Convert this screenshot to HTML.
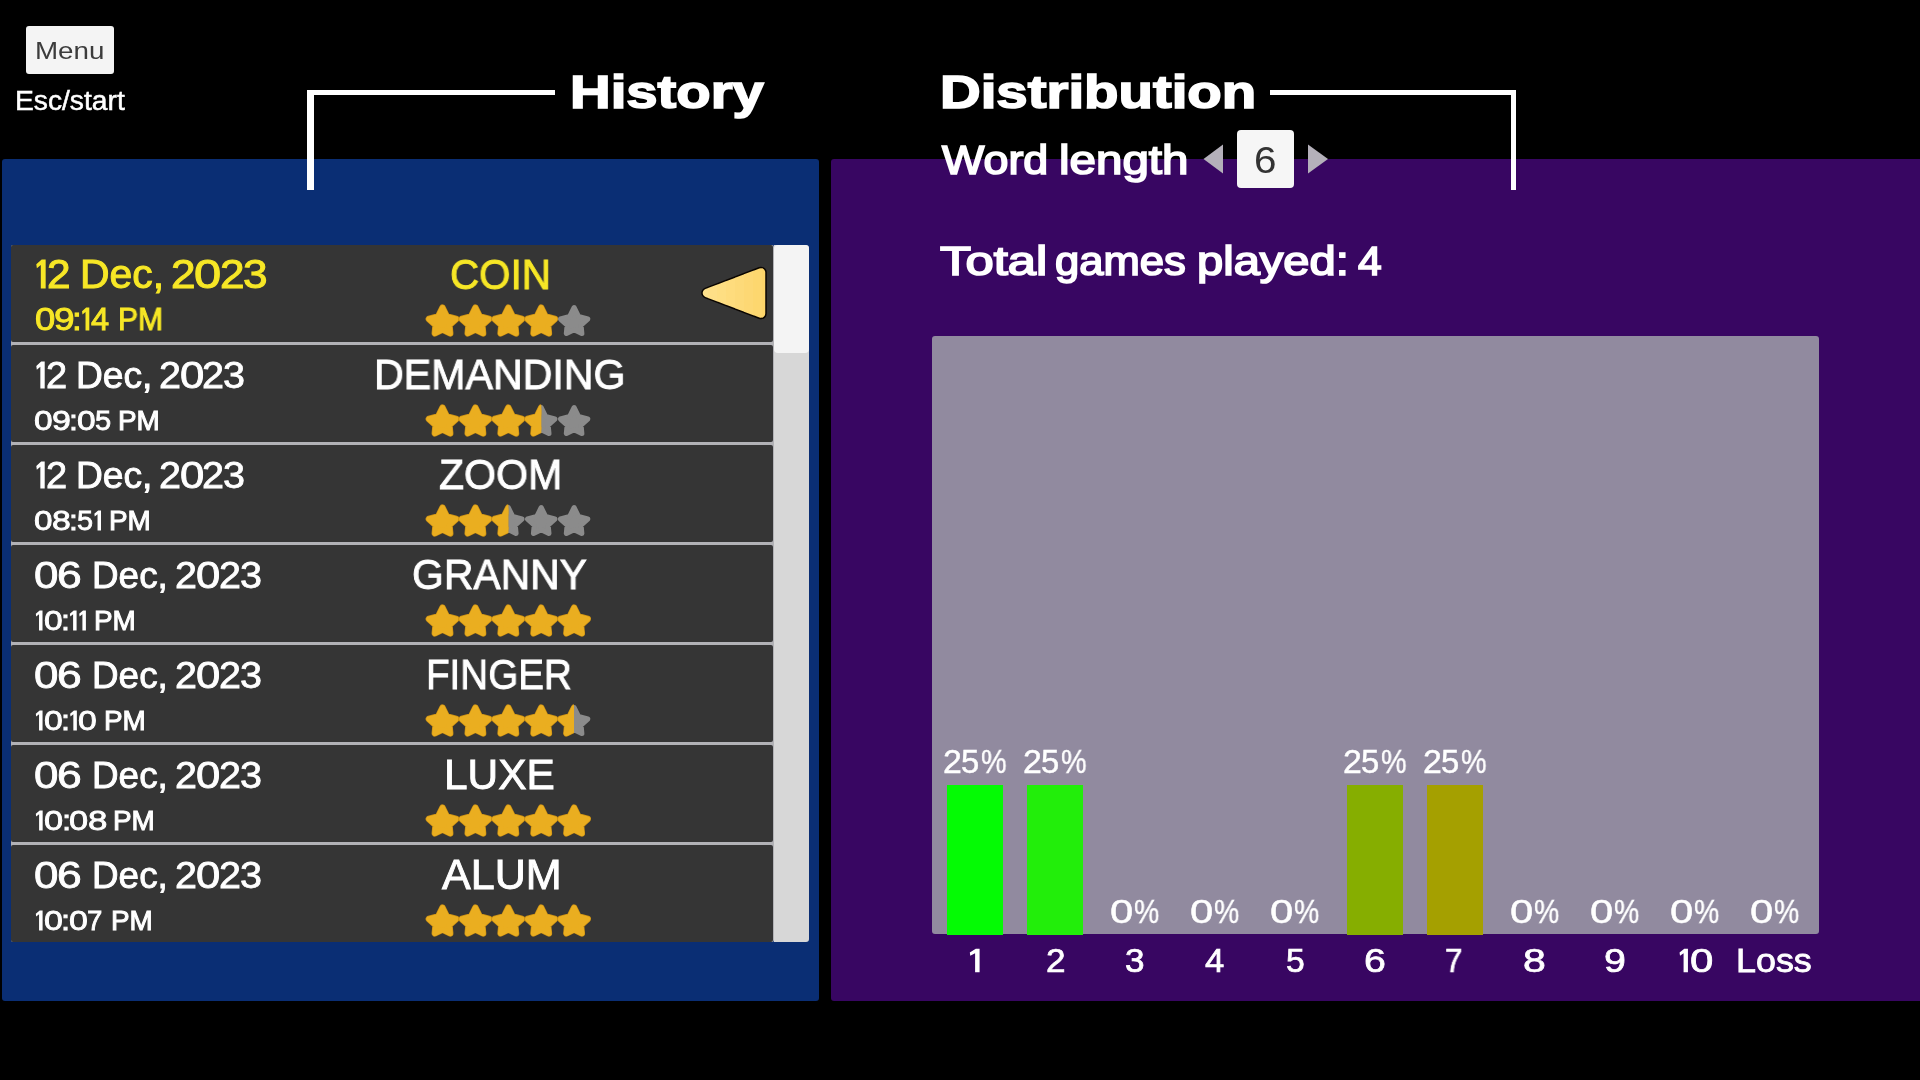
<!DOCTYPE html>
<html><head><meta charset="utf-8"><title>History &amp; Distribution</title>
<style>
html,body{margin:0;padding:0;background:#000;}
body{width:1920px;height:1080px;position:relative;overflow:hidden;font-family:"Liberation Sans",sans-serif;}
.b{position:absolute;display:block;}
.t{position:absolute;display:block;white-space:nowrap;line-height:1;transform-origin:0 0;will-change:transform;}
</style></head><body>
<div class="b" style="left:1.5px;top:158.8px;width:817.00px;height:842.00px;background:#0a2e74;border-radius:3px;"></div>
<div class="b" style="left:831px;top:158.8px;width:1089.00px;height:842.00px;background:#380662;border-radius:3px 0 0 3px;"></div>
<div class="b" style="left:26px;top:26px;width:87.80px;height:47.80px;background:#f4f4f4;border-radius:3px;"></div>
<span class="t" style="left:34.91px;top:39px;font-size:24.2px;color:#3c3c3c;transform:scaleX(1.1474);">Menu</span>
<span class="t" style="left:15.27px;top:88px;font-size:26.8px;color:#ffffff;transform:scaleX(1.0527);-webkit-text-stroke:0.5px #ffffff;">Esc/start</span>
<div class="b" style="left:307.4px;top:90.4px;width:247.80px;height:4.60px;background:#fff;"></div>
<div class="b" style="left:307.4px;top:90.4px;width:6.70px;height:99.60px;background:#fff;"></div>
<div class="b" style="left:1269.6px;top:90.4px;width:246.80px;height:4.60px;background:#fff;"></div>
<div class="b" style="left:1510.9px;top:90.4px;width:5.50px;height:99.60px;background:#fff;"></div>
<span class="t" style="left:569.80px;top:69px;font-size:46px;color:#fff;transform:scaleX(1.2235);font-weight:700;-webkit-text-stroke:1.6px #fff;">History</span>
<span class="t" style="left:939.60px;top:69px;font-size:46px;color:#fff;transform:scaleX(1.2253);font-weight:700;-webkit-text-stroke:1.6px #fff;">Distribution</span>
<span class="t" style="left:941.98px;top:140px;font-size:40.5px;color:#fff;transform:scaleX(1.1067);-webkit-text-stroke:1.7px #fff;">Word</span>
<span class="t" style="left:1058.79px;top:140px;font-size:40.5px;color:#fff;transform:scaleX(1.1733);-webkit-text-stroke:1.7px #fff;">length</span>
<span class="t" style="left:940.16px;top:241px;font-size:40.5px;color:#fff;transform:scaleX(1.2537);-webkit-text-stroke:1.7px #fff;">Total</span>
<span class="t" style="left:1055.15px;top:241px;font-size:40.5px;color:#fff;transform:scaleX(1.0763);-webkit-text-stroke:1.7px #fff;">games</span>
<span class="t" style="left:1197.44px;top:241px;font-size:40.5px;color:#fff;transform:scaleX(1.1621);-webkit-text-stroke:1.7px #fff;">played:</span>
<span class="t" style="left:1357.74px;top:241px;font-size:40.5px;color:#fff;transform:scaleX(1.0509);-webkit-text-stroke:1.7px #fff;">4</span>
<div class="b" style="left:1236.8px;top:130px;width:57.60px;height:57.90px;background:#f6f6f6;border-radius:4px;"></div>
<span class="t" style="left:1253.73px;top:143px;font-size:36.4px;color:#333;transform:scaleX(1.1104);">6</span>
<svg class="b" style="left:1200px;top:140px" width="135" height="40" viewBox="1200 140 135 40"><path d="M1203.5 158.9 L1223 144.6 L1223 173.4 Z" fill="#b4b0ba"/><path d="M1328 158.9 L1308 144.6 L1308 173.4 Z" fill="#b4b0ba"/></svg>
<div class="b" style="left:11px;top:245px;width:762.50px;height:697.00px;background:#b2b2b6;border-radius:2px;"></div>
<div class="b" style="left:773.5px;top:245px;width:35.50px;height:697.00px;background:#d7d7d7;border-radius:0 3px 3px 0;"></div>
<div class="b" style="left:773.5px;top:244.5px;width:35.50px;height:108.50px;background:#f4f4f4;border-radius:4px;"></div>
<div class="b" style="left:11px;top:245px;width:762.20px;height:97.00px;background:#353535;border-radius:2px;"></div>
<svg class="b" style="left:34px;top:257px" width="15" height="35" viewBox="34 257 15 35"><polygon points="41.67,259.50 45.67,259.50 45.67,288.50 40.80,288.50 40.80,265.01 36.88,268.20 36.30,264.14" fill="#f7e726"/></svg>
<span class="t" style="left:47.18px;top:254px;font-size:40.4px;color:#f7e726;transform:scaleX(1.0498);-webkit-text-stroke:1.0px #f7e726;">2</span>
<span class="t" style="left:79.53px;top:254px;font-size:40.8px;color:#f7e726;transform:scaleX(1.0026);-webkit-text-stroke:1.0px #f7e726;">Dec,</span>
<span class="t" style="left:170.89px;top:254px;font-size:40.4px;color:#f7e726;transform:scaleX(1.0942);-webkit-text-stroke:1.0px #f7e726;">2</span>
<span class="t" style="left:193.88px;top:254px;font-size:40.4px;color:#f7e726;transform:scaleX(1.2088);-webkit-text-stroke:1.0px #f7e726;">0</span>
<span class="t" style="left:219.57px;top:254px;font-size:40.4px;color:#f7e726;transform:scaleX(1.0942);-webkit-text-stroke:1.0px #f7e726;">2</span>
<span class="t" style="left:242.86px;top:254px;font-size:40.4px;color:#f7e726;transform:scaleX(1.0937);-webkit-text-stroke:1.0px #f7e726;">3</span>
<span class="t" style="left:34.54px;top:304px;font-size:31.2px;color:#f7e726;transform:scaleX(1.1695);-webkit-text-stroke:0.9px #f7e726;">0</span>
<span class="t" style="left:53.64px;top:304px;font-size:31.2px;color:#f7e726;transform:scaleX(1.1848);-webkit-text-stroke:0.9px #f7e726;">9</span>
<span class="t" style="left:72.39px;top:304px;font-size:31.2px;color:#f7e726;transform:scaleX(1.1235);-webkit-text-stroke:0.9px #f7e726;">:</span>
<svg class="b" style="left:80px;top:305px" width="13" height="28" viewBox="80 305 13 28"><polygon points="86.21,307.55 89.32,307.55 89.32,330.45 85.52,330.45 85.52,311.90 82.48,314.42 82.02,311.21" fill="#f7e726"/></svg>
<span class="t" style="left:91.42px;top:304px;font-size:31.2px;color:#f7e726;transform:scaleX(1.0436);-webkit-text-stroke:0.9px #f7e726;">4</span>
<span class="t" style="left:117.52px;top:304px;font-size:31.2px;color:#f7e726;transform:scaleX(0.9632);-webkit-text-stroke:1.0px #f7e726;">PM</span>
<span class="t" style="left:450.23px;top:254px;font-size:42.3px;color:#f7e726;transform:scaleX(0.9536);-webkit-text-stroke:0.9px #f7e726;">COIN</span>
<svg class="b" style="left:420px;top:301.8px" width="180" height="40"><path d="M0.00,-14.30 L4.30,-5.60 L13.60,-3.00 L6.90,3.20 L7.70,11.40 L0.00,7.60 L-7.70,11.40 L-6.90,3.20 L-13.60,-3.00 L-4.30,-5.60 Z" transform="translate(22.5,20.0)" fill="#c98f14" stroke="#c98f14" stroke-width="6.5" stroke-linejoin="round"/><path d="M0.00,-14.30 L4.30,-5.60 L13.60,-3.00 L6.90,3.20 L7.70,11.40 L0.00,7.60 L-7.70,11.40 L-6.90,3.20 L-13.60,-3.00 L-4.30,-5.60 Z" transform="translate(22.5,20.0)" fill="#eaae20" stroke="#eaae20" stroke-width="5.2" stroke-linejoin="round"/><path d="M0.00,-14.30 L4.30,-5.60 L13.60,-3.00 L6.90,3.20 L7.70,11.40 L0.00,7.60 L-7.70,11.40 L-6.90,3.20 L-13.60,-3.00 L-4.30,-5.60 Z" transform="translate(55.4,20.0)" fill="#c98f14" stroke="#c98f14" stroke-width="6.5" stroke-linejoin="round"/><path d="M0.00,-14.30 L4.30,-5.60 L13.60,-3.00 L6.90,3.20 L7.70,11.40 L0.00,7.60 L-7.70,11.40 L-6.90,3.20 L-13.60,-3.00 L-4.30,-5.60 Z" transform="translate(55.4,20.0)" fill="#eaae20" stroke="#eaae20" stroke-width="5.2" stroke-linejoin="round"/><path d="M0.00,-14.30 L4.30,-5.60 L13.60,-3.00 L6.90,3.20 L7.70,11.40 L0.00,7.60 L-7.70,11.40 L-6.90,3.20 L-13.60,-3.00 L-4.30,-5.60 Z" transform="translate(88.3,20.0)" fill="#c98f14" stroke="#c98f14" stroke-width="6.5" stroke-linejoin="round"/><path d="M0.00,-14.30 L4.30,-5.60 L13.60,-3.00 L6.90,3.20 L7.70,11.40 L0.00,7.60 L-7.70,11.40 L-6.90,3.20 L-13.60,-3.00 L-4.30,-5.60 Z" transform="translate(88.3,20.0)" fill="#eaae20" stroke="#eaae20" stroke-width="5.2" stroke-linejoin="round"/><path d="M0.00,-14.30 L4.30,-5.60 L13.60,-3.00 L6.90,3.20 L7.70,11.40 L0.00,7.60 L-7.70,11.40 L-6.90,3.20 L-13.60,-3.00 L-4.30,-5.60 Z" transform="translate(121.2,20.0)" fill="#c98f14" stroke="#c98f14" stroke-width="6.5" stroke-linejoin="round"/><path d="M0.00,-14.30 L4.30,-5.60 L13.60,-3.00 L6.90,3.20 L7.70,11.40 L0.00,7.60 L-7.70,11.40 L-6.90,3.20 L-13.60,-3.00 L-4.30,-5.60 Z" transform="translate(121.2,20.0)" fill="#eaae20" stroke="#eaae20" stroke-width="5.2" stroke-linejoin="round"/><path d="M0.00,-14.30 L4.30,-5.60 L13.60,-3.00 L6.90,3.20 L7.70,11.40 L0.00,7.60 L-7.70,11.40 L-6.90,3.20 L-13.60,-3.00 L-4.30,-5.60 Z" transform="translate(154.1,20.0)" fill="#8b8b8b" stroke="#8b8b8b" stroke-width="5.2" stroke-linejoin="round"/></svg>
<div class="b" style="left:11px;top:345px;width:762.20px;height:97.00px;background:#353535;border-radius:2px;"></div>
<svg class="b" style="left:34px;top:359px" width="14" height="32" viewBox="34 359 14 32"><polygon points="41.14,361.60 44.71,361.60 44.71,388.40 40.34,388.40 40.34,366.69 36.84,369.64 36.30,365.89" fill="#ffffff"/></svg>
<span class="t" style="left:46.07px;top:358px;font-size:36.4px;color:#ffffff;transform:scaleX(1.0457);-webkit-text-stroke:0.8px #ffffff;">2</span>
<span class="t" style="left:75.83px;top:358px;font-size:36.4px;color:#ffffff;transform:scaleX(1.0218);-webkit-text-stroke:0.9px #ffffff;">Dec,</span>
<span class="t" style="left:158.92px;top:358px;font-size:36.4px;color:#ffffff;transform:scaleX(1.0865);-webkit-text-stroke:0.8px #ffffff;">2</span>
<span class="t" style="left:179.50px;top:358px;font-size:36.4px;color:#ffffff;transform:scaleX(1.2004);-webkit-text-stroke:0.8px #ffffff;">0</span>
<span class="t" style="left:202.49px;top:358px;font-size:36.4px;color:#ffffff;transform:scaleX(1.0865);-webkit-text-stroke:0.8px #ffffff;">2</span>
<span class="t" style="left:223.33px;top:358px;font-size:36.4px;color:#ffffff;transform:scaleX(1.0860);-webkit-text-stroke:0.8px #ffffff;">3</span>
<span class="t" style="left:34.46px;top:407px;font-size:27.6px;color:#ffffff;transform:scaleX(1.2142);-webkit-text-stroke:0.8px #ffffff;">0</span>
<span class="t" style="left:52.00px;top:407px;font-size:27.6px;color:#ffffff;transform:scaleX(1.2301);-webkit-text-stroke:0.8px #ffffff;">9</span>
<span class="t" style="left:69.23px;top:407px;font-size:27.6px;color:#ffffff;transform:scaleX(1.1664);-webkit-text-stroke:0.8px #ffffff;">:</span>
<span class="t" style="left:76.73px;top:407px;font-size:27.6px;color:#ffffff;transform:scaleX(1.2142);-webkit-text-stroke:0.8px #ffffff;">0</span>
<span class="t" style="left:94.73px;top:407px;font-size:27.6px;color:#ffffff;transform:scaleX(1.0528);-webkit-text-stroke:0.8px #ffffff;">5</span>
<span class="t" style="left:118.40px;top:407px;font-size:27.6px;color:#ffffff;transform:scaleX(1.0099);-webkit-text-stroke:1.0px #ffffff;">PM</span>
<span class="t" style="left:374.10px;top:354px;font-size:42.3px;color:#ffffff;transform:scaleX(0.9731);-webkit-text-stroke:0.9px #ffffff;">DEMANDING</span>
<svg class="b" style="left:420px;top:401.8px" width="180" height="40"><path d="M0.00,-14.30 L4.30,-5.60 L13.60,-3.00 L6.90,3.20 L7.70,11.40 L0.00,7.60 L-7.70,11.40 L-6.90,3.20 L-13.60,-3.00 L-4.30,-5.60 Z" transform="translate(22.5,20.0)" fill="#c98f14" stroke="#c98f14" stroke-width="6.5" stroke-linejoin="round"/><path d="M0.00,-14.30 L4.30,-5.60 L13.60,-3.00 L6.90,3.20 L7.70,11.40 L0.00,7.60 L-7.70,11.40 L-6.90,3.20 L-13.60,-3.00 L-4.30,-5.60 Z" transform="translate(22.5,20.0)" fill="#eaae20" stroke="#eaae20" stroke-width="5.2" stroke-linejoin="round"/><path d="M0.00,-14.30 L4.30,-5.60 L13.60,-3.00 L6.90,3.20 L7.70,11.40 L0.00,7.60 L-7.70,11.40 L-6.90,3.20 L-13.60,-3.00 L-4.30,-5.60 Z" transform="translate(55.4,20.0)" fill="#c98f14" stroke="#c98f14" stroke-width="6.5" stroke-linejoin="round"/><path d="M0.00,-14.30 L4.30,-5.60 L13.60,-3.00 L6.90,3.20 L7.70,11.40 L0.00,7.60 L-7.70,11.40 L-6.90,3.20 L-13.60,-3.00 L-4.30,-5.60 Z" transform="translate(55.4,20.0)" fill="#eaae20" stroke="#eaae20" stroke-width="5.2" stroke-linejoin="round"/><path d="M0.00,-14.30 L4.30,-5.60 L13.60,-3.00 L6.90,3.20 L7.70,11.40 L0.00,7.60 L-7.70,11.40 L-6.90,3.20 L-13.60,-3.00 L-4.30,-5.60 Z" transform="translate(88.3,20.0)" fill="#c98f14" stroke="#c98f14" stroke-width="6.5" stroke-linejoin="round"/><path d="M0.00,-14.30 L4.30,-5.60 L13.60,-3.00 L6.90,3.20 L7.70,11.40 L0.00,7.60 L-7.70,11.40 L-6.90,3.20 L-13.60,-3.00 L-4.30,-5.60 Z" transform="translate(88.3,20.0)" fill="#eaae20" stroke="#eaae20" stroke-width="5.2" stroke-linejoin="round"/><path d="M0.00,-14.30 L4.30,-5.60 L13.60,-3.00 L6.90,3.20 L7.70,11.40 L0.00,7.60 L-7.70,11.40 L-6.90,3.20 L-13.60,-3.00 L-4.30,-5.60 Z" transform="translate(121.2,20.0)" fill="#8b8b8b" stroke="#8b8b8b" stroke-width="5.2" stroke-linejoin="round"/><svg x="0" y="0" width="121.2" height="40"><path d="M0.00,-14.30 L4.30,-5.60 L13.60,-3.00 L6.90,3.20 L7.70,11.40 L0.00,7.60 L-7.70,11.40 L-6.90,3.20 L-13.60,-3.00 L-4.30,-5.60 Z" transform="translate(121.2,20.0)" fill="#c98f14" stroke="#c98f14" stroke-width="6.5" stroke-linejoin="round"/><path d="M0.00,-14.30 L4.30,-5.60 L13.60,-3.00 L6.90,3.20 L7.70,11.40 L0.00,7.60 L-7.70,11.40 L-6.90,3.20 L-13.60,-3.00 L-4.30,-5.60 Z" transform="translate(121.2,20.0)" fill="#eaae20" stroke="#eaae20" stroke-width="5.2" stroke-linejoin="round"/></svg><path d="M0.00,-14.30 L4.30,-5.60 L13.60,-3.00 L6.90,3.20 L7.70,11.40 L0.00,7.60 L-7.70,11.40 L-6.90,3.20 L-13.60,-3.00 L-4.30,-5.60 Z" transform="translate(154.1,20.0)" fill="#8b8b8b" stroke="#8b8b8b" stroke-width="5.2" stroke-linejoin="round"/></svg>
<div class="b" style="left:11px;top:445px;width:762.20px;height:97.00px;background:#353535;border-radius:2px;"></div>
<svg class="b" style="left:34px;top:459px" width="14" height="32" viewBox="34 459 14 32"><polygon points="41.14,461.60 44.71,461.60 44.71,488.40 40.34,488.40 40.34,466.69 36.84,469.64 36.30,465.89" fill="#ffffff"/></svg>
<span class="t" style="left:46.07px;top:458px;font-size:36.4px;color:#ffffff;transform:scaleX(1.0457);-webkit-text-stroke:0.8px #ffffff;">2</span>
<span class="t" style="left:75.83px;top:458px;font-size:36.4px;color:#ffffff;transform:scaleX(1.0218);-webkit-text-stroke:0.9px #ffffff;">Dec,</span>
<span class="t" style="left:158.92px;top:458px;font-size:36.4px;color:#ffffff;transform:scaleX(1.0865);-webkit-text-stroke:0.8px #ffffff;">2</span>
<span class="t" style="left:179.50px;top:458px;font-size:36.4px;color:#ffffff;transform:scaleX(1.2004);-webkit-text-stroke:0.8px #ffffff;">0</span>
<span class="t" style="left:202.49px;top:458px;font-size:36.4px;color:#ffffff;transform:scaleX(1.0865);-webkit-text-stroke:0.8px #ffffff;">2</span>
<span class="t" style="left:223.33px;top:458px;font-size:36.4px;color:#ffffff;transform:scaleX(1.0860);-webkit-text-stroke:0.8px #ffffff;">3</span>
<span class="t" style="left:34.47px;top:507px;font-size:27.6px;color:#ffffff;transform:scaleX(1.2051);-webkit-text-stroke:0.8px #ffffff;">0</span>
<span class="t" style="left:52.04px;top:507px;font-size:27.6px;color:#ffffff;transform:scaleX(1.2243);-webkit-text-stroke:0.8px #ffffff;">8</span>
<span class="t" style="left:69.28px;top:507px;font-size:27.6px;color:#ffffff;transform:scaleX(1.1577);-webkit-text-stroke:0.8px #ffffff;">:</span>
<span class="t" style="left:76.90px;top:507px;font-size:27.6px;color:#ffffff;transform:scaleX(1.0449);-webkit-text-stroke:0.8px #ffffff;">5</span>
<svg class="b" style="left:92px;top:508px" width="12" height="25" viewBox="92 508 12 25"><polygon points="98.13,510.60 101.00,510.60 101.00,530.40 97.54,530.40 97.54,514.36 94.74,516.54 94.34,513.77" fill="#ffffff"/></svg>
<span class="t" style="left:109.10px;top:507px;font-size:27.6px;color:#ffffff;transform:scaleX(1.0099);-webkit-text-stroke:1.0px #ffffff;">PM</span>
<span class="t" style="left:439.42px;top:454px;font-size:42.3px;color:#ffffff;transform:scaleX(0.9711);-webkit-text-stroke:0.9px #ffffff;">ZOOM</span>
<svg class="b" style="left:420px;top:501.8px" width="180" height="40"><path d="M0.00,-14.30 L4.30,-5.60 L13.60,-3.00 L6.90,3.20 L7.70,11.40 L0.00,7.60 L-7.70,11.40 L-6.90,3.20 L-13.60,-3.00 L-4.30,-5.60 Z" transform="translate(22.5,20.0)" fill="#c98f14" stroke="#c98f14" stroke-width="6.5" stroke-linejoin="round"/><path d="M0.00,-14.30 L4.30,-5.60 L13.60,-3.00 L6.90,3.20 L7.70,11.40 L0.00,7.60 L-7.70,11.40 L-6.90,3.20 L-13.60,-3.00 L-4.30,-5.60 Z" transform="translate(22.5,20.0)" fill="#eaae20" stroke="#eaae20" stroke-width="5.2" stroke-linejoin="round"/><path d="M0.00,-14.30 L4.30,-5.60 L13.60,-3.00 L6.90,3.20 L7.70,11.40 L0.00,7.60 L-7.70,11.40 L-6.90,3.20 L-13.60,-3.00 L-4.30,-5.60 Z" transform="translate(55.4,20.0)" fill="#c98f14" stroke="#c98f14" stroke-width="6.5" stroke-linejoin="round"/><path d="M0.00,-14.30 L4.30,-5.60 L13.60,-3.00 L6.90,3.20 L7.70,11.40 L0.00,7.60 L-7.70,11.40 L-6.90,3.20 L-13.60,-3.00 L-4.30,-5.60 Z" transform="translate(55.4,20.0)" fill="#eaae20" stroke="#eaae20" stroke-width="5.2" stroke-linejoin="round"/><path d="M0.00,-14.30 L4.30,-5.60 L13.60,-3.00 L6.90,3.20 L7.70,11.40 L0.00,7.60 L-7.70,11.40 L-6.90,3.20 L-13.60,-3.00 L-4.30,-5.60 Z" transform="translate(88.3,20.0)" fill="#8b8b8b" stroke="#8b8b8b" stroke-width="5.2" stroke-linejoin="round"/><svg x="0" y="0" width="88.3" height="40"><path d="M0.00,-14.30 L4.30,-5.60 L13.60,-3.00 L6.90,3.20 L7.70,11.40 L0.00,7.60 L-7.70,11.40 L-6.90,3.20 L-13.60,-3.00 L-4.30,-5.60 Z" transform="translate(88.3,20.0)" fill="#c98f14" stroke="#c98f14" stroke-width="6.5" stroke-linejoin="round"/><path d="M0.00,-14.30 L4.30,-5.60 L13.60,-3.00 L6.90,3.20 L7.70,11.40 L0.00,7.60 L-7.70,11.40 L-6.90,3.20 L-13.60,-3.00 L-4.30,-5.60 Z" transform="translate(88.3,20.0)" fill="#eaae20" stroke="#eaae20" stroke-width="5.2" stroke-linejoin="round"/></svg><path d="M0.00,-14.30 L4.30,-5.60 L13.60,-3.00 L6.90,3.20 L7.70,11.40 L0.00,7.60 L-7.70,11.40 L-6.90,3.20 L-13.60,-3.00 L-4.30,-5.60 Z" transform="translate(121.2,20.0)" fill="#8b8b8b" stroke="#8b8b8b" stroke-width="5.2" stroke-linejoin="round"/><path d="M0.00,-14.30 L4.30,-5.60 L13.60,-3.00 L6.90,3.20 L7.70,11.40 L0.00,7.60 L-7.70,11.40 L-6.90,3.20 L-13.60,-3.00 L-4.30,-5.60 Z" transform="translate(154.1,20.0)" fill="#8b8b8b" stroke="#8b8b8b" stroke-width="5.2" stroke-linejoin="round"/></svg>
<div class="b" style="left:11px;top:545px;width:762.20px;height:97.00px;background:#353535;border-radius:2px;"></div>
<span class="t" style="left:34.24px;top:558px;font-size:36.4px;color:#ffffff;transform:scaleX(1.2060);-webkit-text-stroke:0.8px #ffffff;">0</span>
<span class="t" style="left:57.10px;top:558px;font-size:36.4px;color:#ffffff;transform:scaleX(1.2217);-webkit-text-stroke:0.8px #ffffff;">6</span>
<span class="t" style="left:91.66px;top:558px;font-size:36.4px;color:#ffffff;transform:scaleX(1.0131);-webkit-text-stroke:0.9px #ffffff;">Dec,</span>
<span class="t" style="left:175.32px;top:558px;font-size:36.4px;color:#ffffff;transform:scaleX(1.0852);-webkit-text-stroke:0.8px #ffffff;">2</span>
<span class="t" style="left:195.88px;top:558px;font-size:36.4px;color:#ffffff;transform:scaleX(1.1990);-webkit-text-stroke:0.8px #ffffff;">0</span>
<span class="t" style="left:218.84px;top:558px;font-size:36.4px;color:#ffffff;transform:scaleX(1.0852);-webkit-text-stroke:0.8px #ffffff;">2</span>
<span class="t" style="left:239.66px;top:558px;font-size:36.4px;color:#ffffff;transform:scaleX(1.0847);-webkit-text-stroke:0.8px #ffffff;">3</span>
<svg class="b" style="left:33px;top:608px" width="12" height="25" viewBox="33 608 12 25"><polygon points="39.61,610.60 42.51,610.60 42.51,630.40 39.02,630.40 39.02,614.36 36.20,616.54 35.80,613.77" fill="#ffffff"/></svg>
<span class="t" style="left:43.77px;top:607px;font-size:27.6px;color:#ffffff;transform:scaleX(1.2147);-webkit-text-stroke:0.8px #ffffff;">0</span>
<span class="t" style="left:61.04px;top:607px;font-size:27.6px;color:#ffffff;transform:scaleX(1.1669);-webkit-text-stroke:0.8px #ffffff;">:</span>
<svg class="b" style="left:67px;top:608px" width="12" height="25" viewBox="67 608 12 25"><polygon points="73.69,610.60 76.59,610.60 76.59,630.40 73.10,630.40 73.10,614.36 70.28,616.54 69.88,613.77" fill="#ffffff"/></svg>
<svg class="b" style="left:77px;top:608px" width="12" height="25" viewBox="77 608 12 25"><polygon points="83.01,610.60 85.90,610.60 85.90,630.40 82.41,630.40 82.41,614.36 79.59,616.54 79.19,613.77" fill="#ffffff"/></svg>
<span class="t" style="left:94.40px;top:607px;font-size:27.6px;color:#ffffff;transform:scaleX(1.0099);-webkit-text-stroke:1.0px #ffffff;">PM</span>
<span class="t" style="left:411.96px;top:554px;font-size:42.3px;color:#ffffff;transform:scaleX(0.9665);-webkit-text-stroke:0.9px #ffffff;">GRANNY</span>
<svg class="b" style="left:420px;top:601.8px" width="180" height="40"><path d="M0.00,-14.30 L4.30,-5.60 L13.60,-3.00 L6.90,3.20 L7.70,11.40 L0.00,7.60 L-7.70,11.40 L-6.90,3.20 L-13.60,-3.00 L-4.30,-5.60 Z" transform="translate(22.5,20.0)" fill="#c98f14" stroke="#c98f14" stroke-width="6.5" stroke-linejoin="round"/><path d="M0.00,-14.30 L4.30,-5.60 L13.60,-3.00 L6.90,3.20 L7.70,11.40 L0.00,7.60 L-7.70,11.40 L-6.90,3.20 L-13.60,-3.00 L-4.30,-5.60 Z" transform="translate(22.5,20.0)" fill="#eaae20" stroke="#eaae20" stroke-width="5.2" stroke-linejoin="round"/><path d="M0.00,-14.30 L4.30,-5.60 L13.60,-3.00 L6.90,3.20 L7.70,11.40 L0.00,7.60 L-7.70,11.40 L-6.90,3.20 L-13.60,-3.00 L-4.30,-5.60 Z" transform="translate(55.4,20.0)" fill="#c98f14" stroke="#c98f14" stroke-width="6.5" stroke-linejoin="round"/><path d="M0.00,-14.30 L4.30,-5.60 L13.60,-3.00 L6.90,3.20 L7.70,11.40 L0.00,7.60 L-7.70,11.40 L-6.90,3.20 L-13.60,-3.00 L-4.30,-5.60 Z" transform="translate(55.4,20.0)" fill="#eaae20" stroke="#eaae20" stroke-width="5.2" stroke-linejoin="round"/><path d="M0.00,-14.30 L4.30,-5.60 L13.60,-3.00 L6.90,3.20 L7.70,11.40 L0.00,7.60 L-7.70,11.40 L-6.90,3.20 L-13.60,-3.00 L-4.30,-5.60 Z" transform="translate(88.3,20.0)" fill="#c98f14" stroke="#c98f14" stroke-width="6.5" stroke-linejoin="round"/><path d="M0.00,-14.30 L4.30,-5.60 L13.60,-3.00 L6.90,3.20 L7.70,11.40 L0.00,7.60 L-7.70,11.40 L-6.90,3.20 L-13.60,-3.00 L-4.30,-5.60 Z" transform="translate(88.3,20.0)" fill="#eaae20" stroke="#eaae20" stroke-width="5.2" stroke-linejoin="round"/><path d="M0.00,-14.30 L4.30,-5.60 L13.60,-3.00 L6.90,3.20 L7.70,11.40 L0.00,7.60 L-7.70,11.40 L-6.90,3.20 L-13.60,-3.00 L-4.30,-5.60 Z" transform="translate(121.2,20.0)" fill="#c98f14" stroke="#c98f14" stroke-width="6.5" stroke-linejoin="round"/><path d="M0.00,-14.30 L4.30,-5.60 L13.60,-3.00 L6.90,3.20 L7.70,11.40 L0.00,7.60 L-7.70,11.40 L-6.90,3.20 L-13.60,-3.00 L-4.30,-5.60 Z" transform="translate(121.2,20.0)" fill="#eaae20" stroke="#eaae20" stroke-width="5.2" stroke-linejoin="round"/><path d="M0.00,-14.30 L4.30,-5.60 L13.60,-3.00 L6.90,3.20 L7.70,11.40 L0.00,7.60 L-7.70,11.40 L-6.90,3.20 L-13.60,-3.00 L-4.30,-5.60 Z" transform="translate(154.1,20.0)" fill="#c98f14" stroke="#c98f14" stroke-width="6.5" stroke-linejoin="round"/><path d="M0.00,-14.30 L4.30,-5.60 L13.60,-3.00 L6.90,3.20 L7.70,11.40 L0.00,7.60 L-7.70,11.40 L-6.90,3.20 L-13.60,-3.00 L-4.30,-5.60 Z" transform="translate(154.1,20.0)" fill="#eaae20" stroke="#eaae20" stroke-width="5.2" stroke-linejoin="round"/></svg>
<div class="b" style="left:11px;top:645px;width:762.20px;height:97.00px;background:#353535;border-radius:2px;"></div>
<span class="t" style="left:34.24px;top:658px;font-size:36.4px;color:#ffffff;transform:scaleX(1.2060);-webkit-text-stroke:0.8px #ffffff;">0</span>
<span class="t" style="left:57.10px;top:658px;font-size:36.4px;color:#ffffff;transform:scaleX(1.2217);-webkit-text-stroke:0.8px #ffffff;">6</span>
<span class="t" style="left:91.66px;top:658px;font-size:36.4px;color:#ffffff;transform:scaleX(1.0131);-webkit-text-stroke:0.9px #ffffff;">Dec,</span>
<span class="t" style="left:175.32px;top:658px;font-size:36.4px;color:#ffffff;transform:scaleX(1.0852);-webkit-text-stroke:0.8px #ffffff;">2</span>
<span class="t" style="left:195.88px;top:658px;font-size:36.4px;color:#ffffff;transform:scaleX(1.1990);-webkit-text-stroke:0.8px #ffffff;">0</span>
<span class="t" style="left:218.84px;top:658px;font-size:36.4px;color:#ffffff;transform:scaleX(1.0852);-webkit-text-stroke:0.8px #ffffff;">2</span>
<span class="t" style="left:239.66px;top:658px;font-size:36.4px;color:#ffffff;transform:scaleX(1.0847);-webkit-text-stroke:0.8px #ffffff;">3</span>
<svg class="b" style="left:33px;top:708px" width="12" height="25" viewBox="33 708 12 25"><polygon points="39.63,710.60 42.55,710.60 42.55,730.40 39.04,730.40 39.04,714.36 36.20,716.54 35.80,713.77" fill="#ffffff"/></svg>
<span class="t" style="left:43.82px;top:707px;font-size:27.6px;color:#ffffff;transform:scaleX(1.2226);-webkit-text-stroke:0.8px #ffffff;">0</span>
<span class="t" style="left:61.20px;top:707px;font-size:27.6px;color:#ffffff;transform:scaleX(1.1745);-webkit-text-stroke:0.8px #ffffff;">:</span>
<svg class="b" style="left:68px;top:708px" width="12" height="25" viewBox="68 708 12 25"><polygon points="73.94,710.60 76.86,710.60 76.86,730.40 73.34,730.40 73.34,714.36 70.50,716.54 70.10,713.77" fill="#ffffff"/></svg>
<span class="t" style="left:78.13px;top:707px;font-size:27.6px;color:#ffffff;transform:scaleX(1.2226);-webkit-text-stroke:0.8px #ffffff;">0</span>
<span class="t" style="left:104.20px;top:707px;font-size:27.6px;color:#ffffff;transform:scaleX(1.0099);-webkit-text-stroke:1.0px #ffffff;">PM</span>
<span class="t" style="left:426.42px;top:654px;font-size:42.3px;color:#ffffff;transform:scaleX(0.9126);-webkit-text-stroke:0.9px #ffffff;">FINGER</span>
<svg class="b" style="left:420px;top:701.8px" width="180" height="40"><path d="M0.00,-14.30 L4.30,-5.60 L13.60,-3.00 L6.90,3.20 L7.70,11.40 L0.00,7.60 L-7.70,11.40 L-6.90,3.20 L-13.60,-3.00 L-4.30,-5.60 Z" transform="translate(22.5,20.0)" fill="#c98f14" stroke="#c98f14" stroke-width="6.5" stroke-linejoin="round"/><path d="M0.00,-14.30 L4.30,-5.60 L13.60,-3.00 L6.90,3.20 L7.70,11.40 L0.00,7.60 L-7.70,11.40 L-6.90,3.20 L-13.60,-3.00 L-4.30,-5.60 Z" transform="translate(22.5,20.0)" fill="#eaae20" stroke="#eaae20" stroke-width="5.2" stroke-linejoin="round"/><path d="M0.00,-14.30 L4.30,-5.60 L13.60,-3.00 L6.90,3.20 L7.70,11.40 L0.00,7.60 L-7.70,11.40 L-6.90,3.20 L-13.60,-3.00 L-4.30,-5.60 Z" transform="translate(55.4,20.0)" fill="#c98f14" stroke="#c98f14" stroke-width="6.5" stroke-linejoin="round"/><path d="M0.00,-14.30 L4.30,-5.60 L13.60,-3.00 L6.90,3.20 L7.70,11.40 L0.00,7.60 L-7.70,11.40 L-6.90,3.20 L-13.60,-3.00 L-4.30,-5.60 Z" transform="translate(55.4,20.0)" fill="#eaae20" stroke="#eaae20" stroke-width="5.2" stroke-linejoin="round"/><path d="M0.00,-14.30 L4.30,-5.60 L13.60,-3.00 L6.90,3.20 L7.70,11.40 L0.00,7.60 L-7.70,11.40 L-6.90,3.20 L-13.60,-3.00 L-4.30,-5.60 Z" transform="translate(88.3,20.0)" fill="#c98f14" stroke="#c98f14" stroke-width="6.5" stroke-linejoin="round"/><path d="M0.00,-14.30 L4.30,-5.60 L13.60,-3.00 L6.90,3.20 L7.70,11.40 L0.00,7.60 L-7.70,11.40 L-6.90,3.20 L-13.60,-3.00 L-4.30,-5.60 Z" transform="translate(88.3,20.0)" fill="#eaae20" stroke="#eaae20" stroke-width="5.2" stroke-linejoin="round"/><path d="M0.00,-14.30 L4.30,-5.60 L13.60,-3.00 L6.90,3.20 L7.70,11.40 L0.00,7.60 L-7.70,11.40 L-6.90,3.20 L-13.60,-3.00 L-4.30,-5.60 Z" transform="translate(121.2,20.0)" fill="#c98f14" stroke="#c98f14" stroke-width="6.5" stroke-linejoin="round"/><path d="M0.00,-14.30 L4.30,-5.60 L13.60,-3.00 L6.90,3.20 L7.70,11.40 L0.00,7.60 L-7.70,11.40 L-6.90,3.20 L-13.60,-3.00 L-4.30,-5.60 Z" transform="translate(121.2,20.0)" fill="#eaae20" stroke="#eaae20" stroke-width="5.2" stroke-linejoin="round"/><path d="M0.00,-14.30 L4.30,-5.60 L13.60,-3.00 L6.90,3.20 L7.70,11.40 L0.00,7.60 L-7.70,11.40 L-6.90,3.20 L-13.60,-3.00 L-4.30,-5.60 Z" transform="translate(154.1,20.0)" fill="#8b8b8b" stroke="#8b8b8b" stroke-width="5.2" stroke-linejoin="round"/><svg x="0" y="0" width="154.1" height="40"><path d="M0.00,-14.30 L4.30,-5.60 L13.60,-3.00 L6.90,3.20 L7.70,11.40 L0.00,7.60 L-7.70,11.40 L-6.90,3.20 L-13.60,-3.00 L-4.30,-5.60 Z" transform="translate(154.1,20.0)" fill="#c98f14" stroke="#c98f14" stroke-width="6.5" stroke-linejoin="round"/><path d="M0.00,-14.30 L4.30,-5.60 L13.60,-3.00 L6.90,3.20 L7.70,11.40 L0.00,7.60 L-7.70,11.40 L-6.90,3.20 L-13.60,-3.00 L-4.30,-5.60 Z" transform="translate(154.1,20.0)" fill="#eaae20" stroke="#eaae20" stroke-width="5.2" stroke-linejoin="round"/></svg></svg>
<div class="b" style="left:11px;top:745px;width:762.20px;height:97.00px;background:#353535;border-radius:2px;"></div>
<span class="t" style="left:34.24px;top:758px;font-size:36.4px;color:#ffffff;transform:scaleX(1.2060);-webkit-text-stroke:0.8px #ffffff;">0</span>
<span class="t" style="left:57.10px;top:758px;font-size:36.4px;color:#ffffff;transform:scaleX(1.2217);-webkit-text-stroke:0.8px #ffffff;">6</span>
<span class="t" style="left:91.66px;top:758px;font-size:36.4px;color:#ffffff;transform:scaleX(1.0131);-webkit-text-stroke:0.9px #ffffff;">Dec,</span>
<span class="t" style="left:175.32px;top:758px;font-size:36.4px;color:#ffffff;transform:scaleX(1.0852);-webkit-text-stroke:0.8px #ffffff;">2</span>
<span class="t" style="left:195.88px;top:758px;font-size:36.4px;color:#ffffff;transform:scaleX(1.1990);-webkit-text-stroke:0.8px #ffffff;">0</span>
<span class="t" style="left:218.84px;top:758px;font-size:36.4px;color:#ffffff;transform:scaleX(1.0852);-webkit-text-stroke:0.8px #ffffff;">2</span>
<span class="t" style="left:239.66px;top:758px;font-size:36.4px;color:#ffffff;transform:scaleX(1.0847);-webkit-text-stroke:0.8px #ffffff;">3</span>
<svg class="b" style="left:33px;top:808px" width="12" height="25" viewBox="33 808 12 25"><polygon points="39.69,810.60 42.67,810.60 42.67,830.40 39.10,830.40 39.10,814.36 36.20,816.54 35.80,813.77" fill="#ffffff"/></svg>
<span class="t" style="left:43.97px;top:807px;font-size:27.6px;color:#ffffff;transform:scaleX(1.2447);-webkit-text-stroke:0.8px #ffffff;">0</span>
<span class="t" style="left:61.66px;top:807px;font-size:27.6px;color:#ffffff;transform:scaleX(1.1957);-webkit-text-stroke:0.8px #ffffff;">:</span>
<span class="t" style="left:69.35px;top:807px;font-size:27.6px;color:#ffffff;transform:scaleX(1.2447);-webkit-text-stroke:0.8px #ffffff;">0</span>
<span class="t" style="left:87.50px;top:807px;font-size:27.6px;color:#ffffff;transform:scaleX(1.2645);-webkit-text-stroke:0.8px #ffffff;">8</span>
<span class="t" style="left:113.20px;top:807px;font-size:27.6px;color:#ffffff;transform:scaleX(1.0099);-webkit-text-stroke:1.0px #ffffff;">PM</span>
<span class="t" style="left:443.75px;top:754px;font-size:42.3px;color:#ffffff;transform:scaleX(1.0027);-webkit-text-stroke:0.9px #ffffff;">LUXE</span>
<svg class="b" style="left:420px;top:801.8px" width="180" height="40"><path d="M0.00,-14.30 L4.30,-5.60 L13.60,-3.00 L6.90,3.20 L7.70,11.40 L0.00,7.60 L-7.70,11.40 L-6.90,3.20 L-13.60,-3.00 L-4.30,-5.60 Z" transform="translate(22.5,20.0)" fill="#c98f14" stroke="#c98f14" stroke-width="6.5" stroke-linejoin="round"/><path d="M0.00,-14.30 L4.30,-5.60 L13.60,-3.00 L6.90,3.20 L7.70,11.40 L0.00,7.60 L-7.70,11.40 L-6.90,3.20 L-13.60,-3.00 L-4.30,-5.60 Z" transform="translate(22.5,20.0)" fill="#eaae20" stroke="#eaae20" stroke-width="5.2" stroke-linejoin="round"/><path d="M0.00,-14.30 L4.30,-5.60 L13.60,-3.00 L6.90,3.20 L7.70,11.40 L0.00,7.60 L-7.70,11.40 L-6.90,3.20 L-13.60,-3.00 L-4.30,-5.60 Z" transform="translate(55.4,20.0)" fill="#c98f14" stroke="#c98f14" stroke-width="6.5" stroke-linejoin="round"/><path d="M0.00,-14.30 L4.30,-5.60 L13.60,-3.00 L6.90,3.20 L7.70,11.40 L0.00,7.60 L-7.70,11.40 L-6.90,3.20 L-13.60,-3.00 L-4.30,-5.60 Z" transform="translate(55.4,20.0)" fill="#eaae20" stroke="#eaae20" stroke-width="5.2" stroke-linejoin="round"/><path d="M0.00,-14.30 L4.30,-5.60 L13.60,-3.00 L6.90,3.20 L7.70,11.40 L0.00,7.60 L-7.70,11.40 L-6.90,3.20 L-13.60,-3.00 L-4.30,-5.60 Z" transform="translate(88.3,20.0)" fill="#c98f14" stroke="#c98f14" stroke-width="6.5" stroke-linejoin="round"/><path d="M0.00,-14.30 L4.30,-5.60 L13.60,-3.00 L6.90,3.20 L7.70,11.40 L0.00,7.60 L-7.70,11.40 L-6.90,3.20 L-13.60,-3.00 L-4.30,-5.60 Z" transform="translate(88.3,20.0)" fill="#eaae20" stroke="#eaae20" stroke-width="5.2" stroke-linejoin="round"/><path d="M0.00,-14.30 L4.30,-5.60 L13.60,-3.00 L6.90,3.20 L7.70,11.40 L0.00,7.60 L-7.70,11.40 L-6.90,3.20 L-13.60,-3.00 L-4.30,-5.60 Z" transform="translate(121.2,20.0)" fill="#c98f14" stroke="#c98f14" stroke-width="6.5" stroke-linejoin="round"/><path d="M0.00,-14.30 L4.30,-5.60 L13.60,-3.00 L6.90,3.20 L7.70,11.40 L0.00,7.60 L-7.70,11.40 L-6.90,3.20 L-13.60,-3.00 L-4.30,-5.60 Z" transform="translate(121.2,20.0)" fill="#eaae20" stroke="#eaae20" stroke-width="5.2" stroke-linejoin="round"/><path d="M0.00,-14.30 L4.30,-5.60 L13.60,-3.00 L6.90,3.20 L7.70,11.40 L0.00,7.60 L-7.70,11.40 L-6.90,3.20 L-13.60,-3.00 L-4.30,-5.60 Z" transform="translate(154.1,20.0)" fill="#c98f14" stroke="#c98f14" stroke-width="6.5" stroke-linejoin="round"/><path d="M0.00,-14.30 L4.30,-5.60 L13.60,-3.00 L6.90,3.20 L7.70,11.40 L0.00,7.60 L-7.70,11.40 L-6.90,3.20 L-13.60,-3.00 L-4.30,-5.60 Z" transform="translate(154.1,20.0)" fill="#eaae20" stroke="#eaae20" stroke-width="5.2" stroke-linejoin="round"/></svg>
<div class="b" style="left:11px;top:845px;width:762.20px;height:97.00px;background:#353535;border-radius:2px;"></div>
<span class="t" style="left:34.24px;top:858px;font-size:36.4px;color:#ffffff;transform:scaleX(1.2060);-webkit-text-stroke:0.8px #ffffff;">0</span>
<span class="t" style="left:57.10px;top:858px;font-size:36.4px;color:#ffffff;transform:scaleX(1.2217);-webkit-text-stroke:0.8px #ffffff;">6</span>
<span class="t" style="left:91.66px;top:858px;font-size:36.4px;color:#ffffff;transform:scaleX(1.0131);-webkit-text-stroke:0.9px #ffffff;">Dec,</span>
<span class="t" style="left:175.32px;top:858px;font-size:36.4px;color:#ffffff;transform:scaleX(1.0852);-webkit-text-stroke:0.8px #ffffff;">2</span>
<span class="t" style="left:195.88px;top:858px;font-size:36.4px;color:#ffffff;transform:scaleX(1.1990);-webkit-text-stroke:0.8px #ffffff;">0</span>
<span class="t" style="left:218.84px;top:858px;font-size:36.4px;color:#ffffff;transform:scaleX(1.0852);-webkit-text-stroke:0.8px #ffffff;">2</span>
<span class="t" style="left:239.66px;top:858px;font-size:36.4px;color:#ffffff;transform:scaleX(1.0847);-webkit-text-stroke:0.8px #ffffff;">3</span>
<svg class="b" style="left:33px;top:908px" width="12" height="25" viewBox="33 908 12 25"><polygon points="39.66,910.60 42.60,910.60 42.60,930.40 39.06,930.40 39.06,914.36 36.20,916.54 35.80,913.77" fill="#ffffff"/></svg>
<span class="t" style="left:43.88px;top:907px;font-size:27.6px;color:#ffffff;transform:scaleX(1.2314);-webkit-text-stroke:0.8px #ffffff;">0</span>
<span class="t" style="left:61.38px;top:907px;font-size:27.6px;color:#ffffff;transform:scaleX(1.1829);-webkit-text-stroke:0.8px #ffffff;">:</span>
<span class="t" style="left:68.99px;top:907px;font-size:27.6px;color:#ffffff;transform:scaleX(1.2314);-webkit-text-stroke:0.8px #ffffff;">0</span>
<span class="t" style="left:87.05px;top:907px;font-size:27.6px;color:#ffffff;transform:scaleX(0.9934);-webkit-text-stroke:0.8px #ffffff;">7</span>
<span class="t" style="left:110.90px;top:907px;font-size:27.6px;color:#ffffff;transform:scaleX(1.0099);-webkit-text-stroke:1.0px #ffffff;">PM</span>
<span class="t" style="left:441.89px;top:854px;font-size:42.3px;color:#ffffff;transform:scaleX(1.0186);-webkit-text-stroke:0.9px #ffffff;">ALUM</span>
<svg class="b" style="left:420px;top:901.8px" width="180" height="40"><path d="M0.00,-14.30 L4.30,-5.60 L13.60,-3.00 L6.90,3.20 L7.70,11.40 L0.00,7.60 L-7.70,11.40 L-6.90,3.20 L-13.60,-3.00 L-4.30,-5.60 Z" transform="translate(22.5,20.0)" fill="#c98f14" stroke="#c98f14" stroke-width="6.5" stroke-linejoin="round"/><path d="M0.00,-14.30 L4.30,-5.60 L13.60,-3.00 L6.90,3.20 L7.70,11.40 L0.00,7.60 L-7.70,11.40 L-6.90,3.20 L-13.60,-3.00 L-4.30,-5.60 Z" transform="translate(22.5,20.0)" fill="#eaae20" stroke="#eaae20" stroke-width="5.2" stroke-linejoin="round"/><path d="M0.00,-14.30 L4.30,-5.60 L13.60,-3.00 L6.90,3.20 L7.70,11.40 L0.00,7.60 L-7.70,11.40 L-6.90,3.20 L-13.60,-3.00 L-4.30,-5.60 Z" transform="translate(55.4,20.0)" fill="#c98f14" stroke="#c98f14" stroke-width="6.5" stroke-linejoin="round"/><path d="M0.00,-14.30 L4.30,-5.60 L13.60,-3.00 L6.90,3.20 L7.70,11.40 L0.00,7.60 L-7.70,11.40 L-6.90,3.20 L-13.60,-3.00 L-4.30,-5.60 Z" transform="translate(55.4,20.0)" fill="#eaae20" stroke="#eaae20" stroke-width="5.2" stroke-linejoin="round"/><path d="M0.00,-14.30 L4.30,-5.60 L13.60,-3.00 L6.90,3.20 L7.70,11.40 L0.00,7.60 L-7.70,11.40 L-6.90,3.20 L-13.60,-3.00 L-4.30,-5.60 Z" transform="translate(88.3,20.0)" fill="#c98f14" stroke="#c98f14" stroke-width="6.5" stroke-linejoin="round"/><path d="M0.00,-14.30 L4.30,-5.60 L13.60,-3.00 L6.90,3.20 L7.70,11.40 L0.00,7.60 L-7.70,11.40 L-6.90,3.20 L-13.60,-3.00 L-4.30,-5.60 Z" transform="translate(88.3,20.0)" fill="#eaae20" stroke="#eaae20" stroke-width="5.2" stroke-linejoin="round"/><path d="M0.00,-14.30 L4.30,-5.60 L13.60,-3.00 L6.90,3.20 L7.70,11.40 L0.00,7.60 L-7.70,11.40 L-6.90,3.20 L-13.60,-3.00 L-4.30,-5.60 Z" transform="translate(121.2,20.0)" fill="#c98f14" stroke="#c98f14" stroke-width="6.5" stroke-linejoin="round"/><path d="M0.00,-14.30 L4.30,-5.60 L13.60,-3.00 L6.90,3.20 L7.70,11.40 L0.00,7.60 L-7.70,11.40 L-6.90,3.20 L-13.60,-3.00 L-4.30,-5.60 Z" transform="translate(121.2,20.0)" fill="#eaae20" stroke="#eaae20" stroke-width="5.2" stroke-linejoin="round"/><path d="M0.00,-14.30 L4.30,-5.60 L13.60,-3.00 L6.90,3.20 L7.70,11.40 L0.00,7.60 L-7.70,11.40 L-6.90,3.20 L-13.60,-3.00 L-4.30,-5.60 Z" transform="translate(154.1,20.0)" fill="#c98f14" stroke="#c98f14" stroke-width="6.5" stroke-linejoin="round"/><path d="M0.00,-14.30 L4.30,-5.60 L13.60,-3.00 L6.90,3.20 L7.70,11.40 L0.00,7.60 L-7.70,11.40 L-6.90,3.20 L-13.60,-3.00 L-4.30,-5.60 Z" transform="translate(154.1,20.0)" fill="#eaae20" stroke="#eaae20" stroke-width="5.2" stroke-linejoin="round"/></svg>
<svg class="b" style="left:695px;top:260px" width="80" height="66"><path d="M12 33 L66 12.4 L66 53.6 Z" fill="#0a0500" stroke="#0a0500" stroke-width="11.5" stroke-linejoin="round"/><svg x="4.0" y="0" width="9.4" height="66" viewBox="4.0 0 9.4 66"><path d="M12 33 L66 12.4 L66 53.6 Z" fill="#fee18c" stroke="#fee18c" stroke-width="8.5" stroke-linejoin="round"/></svg><svg x="13.0" y="0" width="9.4" height="66" viewBox="13.0 0 9.4 66"><path d="M12 33 L66 12.4 L66 53.6 Z" fill="#fedf87" stroke="#fedf87" stroke-width="8.5" stroke-linejoin="round"/></svg><svg x="22.0" y="0" width="9.4" height="66" viewBox="22.0 0 9.4 66"><path d="M12 33 L66 12.4 L66 53.6 Z" fill="#fede82" stroke="#fede82" stroke-width="8.5" stroke-linejoin="round"/></svg><svg x="31.0" y="0" width="9.4" height="66" viewBox="31.0 0 9.4 66"><path d="M12 33 L66 12.4 L66 53.6 Z" fill="#fedc7d" stroke="#fedc7d" stroke-width="8.5" stroke-linejoin="round"/></svg><svg x="40.0" y="0" width="9.4" height="66" viewBox="40.0 0 9.4 66"><path d="M12 33 L66 12.4 L66 53.6 Z" fill="#fdda79" stroke="#fdda79" stroke-width="8.5" stroke-linejoin="round"/></svg><svg x="49.0" y="0" width="9.4" height="66" viewBox="49.0 0 9.4 66"><path d="M12 33 L66 12.4 L66 53.6 Z" fill="#fdd874" stroke="#fdd874" stroke-width="8.5" stroke-linejoin="round"/></svg><svg x="58.0" y="0" width="9.4" height="66" viewBox="58.0 0 9.4 66"><path d="M12 33 L66 12.4 L66 53.6 Z" fill="#fdd76f" stroke="#fdd76f" stroke-width="8.5" stroke-linejoin="round"/></svg><svg x="67.0" y="0" width="9.4" height="66" viewBox="67.0 0 9.4 66"><path d="M12 33 L66 12.4 L66 53.6 Z" fill="#fdd56a" stroke="#fdd56a" stroke-width="8.5" stroke-linejoin="round"/></svg></svg>
<div class="b" style="left:931.5px;top:336px;width:887.00px;height:597.50px;background:#918a9f;border-radius:3px;"></div>
<div class="b" style="left:946.9px;top:784.8px;width:56.10px;height:150.00px;background:#04fb04;"></div>
<span class="t" style="left:943.31px;top:746px;font-size:32.8px;color:#fff;transform:scaleX(1.0311);-webkit-text-stroke:0.45px #fff;">2</span>
<span class="t" style="left:961.11px;top:746px;font-size:32.8px;color:#fff;transform:scaleX(0.9877);-webkit-text-stroke:0.45px #fff;">5</span>
<span class="t" style="left:980.69px;top:746px;font-size:32.8px;color:#fff;transform:scaleX(0.8772);-webkit-text-stroke:0.45px #fff;">%</span>
<svg class="b" style="left:967px;top:946px" width="15" height="29" viewBox="967 946 15 29"><polygon points="975.81,948.65 979.60,948.65 979.60,972.35 975.10,972.35 975.10,953.15 970.27,955.76 969.80,952.44" fill="#fff"/></svg>
<div class="b" style="left:1026.9px;top:784.8px;width:56.10px;height:150.00px;background:#22ee0a;"></div>
<span class="t" style="left:1023.31px;top:746px;font-size:32.8px;color:#fff;transform:scaleX(1.0311);-webkit-text-stroke:0.45px #fff;">2</span>
<span class="t" style="left:1041.11px;top:746px;font-size:32.8px;color:#fff;transform:scaleX(0.9877);-webkit-text-stroke:0.45px #fff;">5</span>
<span class="t" style="left:1060.69px;top:746px;font-size:32.8px;color:#fff;transform:scaleX(0.8772);-webkit-text-stroke:0.45px #fff;">%</span>
<span class="t" style="left:1045.74px;top:945px;font-size:32.8px;color:#fff;transform:scaleX(1.0716);-webkit-text-stroke:0.7px #fff;">2</span>
<span class="t" style="left:1109.73px;top:896px;font-size:32.8px;color:#fff;transform:scaleX(1.2764);-webkit-text-stroke:0.45px #fff;">0</span>
<span class="t" style="left:1134.31px;top:896px;font-size:32.8px;color:#fff;transform:scaleX(0.8661);-webkit-text-stroke:0.45px #fff;">%</span>
<span class="t" style="left:1125.33px;top:945px;font-size:32.8px;color:#fff;transform:scaleX(1.0714);-webkit-text-stroke:0.7px #fff;">3</span>
<span class="t" style="left:1189.73px;top:896px;font-size:32.8px;color:#fff;transform:scaleX(1.2764);-webkit-text-stroke:0.45px #fff;">0</span>
<span class="t" style="left:1214.31px;top:896px;font-size:32.8px;color:#fff;transform:scaleX(0.8661);-webkit-text-stroke:0.45px #fff;">%</span>
<span class="t" style="left:1205.07px;top:945px;font-size:32.8px;color:#fff;transform:scaleX(1.0560);-webkit-text-stroke:0.7px #fff;">4</span>
<span class="t" style="left:1269.73px;top:896px;font-size:32.8px;color:#fff;transform:scaleX(1.2764);-webkit-text-stroke:0.45px #fff;">0</span>
<span class="t" style="left:1294.31px;top:896px;font-size:32.8px;color:#fff;transform:scaleX(0.8661);-webkit-text-stroke:0.45px #fff;">%</span>
<span class="t" style="left:1285.65px;top:945px;font-size:32.8px;color:#fff;transform:scaleX(1.0265);-webkit-text-stroke:0.7px #fff;">5</span>
<div class="b" style="left:1346.9px;top:784.8px;width:56.10px;height:150.00px;background:#86ae00;"></div>
<span class="t" style="left:1343.31px;top:746px;font-size:32.8px;color:#fff;transform:scaleX(1.0311);-webkit-text-stroke:0.45px #fff;">2</span>
<span class="t" style="left:1361.11px;top:746px;font-size:32.8px;color:#fff;transform:scaleX(0.9877);-webkit-text-stroke:0.45px #fff;">5</span>
<span class="t" style="left:1380.69px;top:746px;font-size:32.8px;color:#fff;transform:scaleX(0.8772);-webkit-text-stroke:0.45px #fff;">%</span>
<span class="t" style="left:1363.53px;top:945px;font-size:32.8px;color:#fff;transform:scaleX(1.1991);-webkit-text-stroke:0.7px #fff;">6</span>
<div class="b" style="left:1426.9px;top:784.8px;width:56.10px;height:150.00px;background:#a5a000;"></div>
<span class="t" style="left:1423.31px;top:746px;font-size:32.8px;color:#fff;transform:scaleX(1.0311);-webkit-text-stroke:0.45px #fff;">2</span>
<span class="t" style="left:1441.11px;top:746px;font-size:32.8px;color:#fff;transform:scaleX(0.9877);-webkit-text-stroke:0.45px #fff;">5</span>
<span class="t" style="left:1460.69px;top:746px;font-size:32.8px;color:#fff;transform:scaleX(0.8772);-webkit-text-stroke:0.45px #fff;">%</span>
<span class="t" style="left:1445.38px;top:945px;font-size:32.8px;color:#fff;transform:scaleX(0.9577);-webkit-text-stroke:0.7px #fff;">7</span>
<span class="t" style="left:1509.73px;top:896px;font-size:32.8px;color:#fff;transform:scaleX(1.2764);-webkit-text-stroke:0.45px #fff;">0</span>
<span class="t" style="left:1534.31px;top:896px;font-size:32.8px;color:#fff;transform:scaleX(0.8661);-webkit-text-stroke:0.45px #fff;">%</span>
<span class="t" style="left:1523.41px;top:945px;font-size:32.8px;color:#fff;transform:scaleX(1.2513);-webkit-text-stroke:0.7px #fff;">8</span>
<span class="t" style="left:1589.73px;top:896px;font-size:32.8px;color:#fff;transform:scaleX(1.2764);-webkit-text-stroke:0.45px #fff;">0</span>
<span class="t" style="left:1614.31px;top:896px;font-size:32.8px;color:#fff;transform:scaleX(0.8661);-webkit-text-stroke:0.45px #fff;">%</span>
<span class="t" style="left:1603.63px;top:945px;font-size:32.8px;color:#fff;transform:scaleX(1.1991);-webkit-text-stroke:0.7px #fff;">9</span>
<span class="t" style="left:1669.73px;top:896px;font-size:32.8px;color:#fff;transform:scaleX(1.2764);-webkit-text-stroke:0.45px #fff;">0</span>
<span class="t" style="left:1694.31px;top:896px;font-size:32.8px;color:#fff;transform:scaleX(0.8661);-webkit-text-stroke:0.45px #fff;">%</span>
<svg class="b" style="left:1677px;top:946px" width="14" height="29" viewBox="1677 946 14 29"><polygon points="1684.29,948.65 1687.94,948.65 1687.94,972.35 1683.58,972.35 1683.58,953.15 1680.02,955.76 1679.55,952.44" fill="#fff"/></svg>
<span class="t" style="left:1689.52px;top:945px;font-size:32.8px;color:#fff;transform:scaleX(1.2794);-webkit-text-stroke:0.7px #fff;">0</span>
<span class="t" style="left:1749.73px;top:896px;font-size:32.8px;color:#fff;transform:scaleX(1.2764);-webkit-text-stroke:0.45px #fff;">0</span>
<span class="t" style="left:1774.31px;top:896px;font-size:32.8px;color:#fff;transform:scaleX(0.8661);-webkit-text-stroke:0.45px #fff;">%</span>
<span class="t" style="left:1736.04px;top:945px;font-size:32.8px;color:#fff;transform:scaleX(1.0943);-webkit-text-stroke:0.8px #fff;">Loss</span>
</body></html>
